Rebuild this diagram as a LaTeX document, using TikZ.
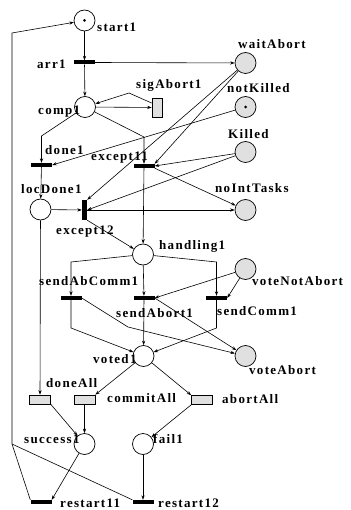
\documentclass[tikz,border=0pt]{standalone}
\usepackage{fontspec}
\setmainfont{Liberation Serif}
\usetikzlibrary{arrows.meta}
\begin{document}
\begin{tikzpicture}[x=1pt,y=-1pt,
  arc/.style={line width=0.6pt,-{Stealth[length=4.5pt,width=3.2pt]}},
  plain/.style={line width=0.6pt},
  place/.style={circle,draw,line width=0.7pt,minimum size=21pt,inner sep=0pt,fill=white},
  rplace/.style={place,fill=black!12},
  trans/.style={rectangle,fill=black,draw=none,minimum width=21pt,minimum height=4pt,inner sep=0pt},
  vtrans/.style={trans,minimum width=5pt,minimum height=20pt},
  act/.style={rectangle,draw,fill=black!12,line width=0.6pt,minimum width=21pt,minimum height=9pt,inner sep=0pt},
  lbl/.style={anchor=base west,inner sep=0pt,font=\fontsize{13}{15}\selectfont\bfseries\addfontfeature{LetterSpace=10}},
  tok/.style={circle,fill=black,inner sep=0pt,minimum size=3pt}
]
\useasboundingbox (0,0) rectangle (350,510);

% places
\node[place]  (start1)       at (84.5,20.5) {};
\node[place]  (comp1)        at (85,107) {};
\node[place]  (locDone1)     at (40.5,209.5) {};
\node[place]  (handling1)    at (143,254.5) {};
\node[place]  (voted1)       at (143.5,356) {};
\node[place]  (success1)     at (84.5,444) {};
\node[place]  (fail1)        at (143,444) {};
\node[rplace] (waitAbort)    at (245.5,63) {};
\node[rplace] (notKilled)    at (245.5,107) {};
\node[rplace] (Killed)       at (245.5,152) {};
\node[rplace] (noIntTasks)   at (245.5,210) {};
\node[rplace] (voteNotAbort) at (245.5,269) {};
\node[rplace] (voteAbort)    at (245.5,356) {};
\node[tok] (start1-tok) at (start1) {};
\node[tok] (notKilled-tok) at (notKilled) {};

% transitions
\node[trans]  (arr1)        at (84.5,62.5) {};
\node[trans]  (done1)       at (41.5,165) {};
\node[trans]  (except11)    at (144,166) {};
\node[vtrans] (except12)    at (84.5,210) {};
\node[trans]  (sendAbComm1) at (71,298) {};
\node[trans]  (sendAbort1)  at (144,298) {};
\node[trans]  (sendComm1)   at (216.5,298) {};
\node[trans]  (restart11)   at (41,502) {};
\node[trans]  (restart12)   at (143,502) {};
\node[act] (doneAll)   at (40,399.5) {};
\node[act] (commitAll) at (84.5,399.5) {};
\node[act] (abortAll)  at (202,400) {};
\node[act,minimum width=10pt,minimum height=19pt] (sigAbort1) at (157,107.5) {};

% labels
\node[lbl] (start1-l)       at (97,32)  {start1};
\node[lbl] (arr1-l)         at (37,69)  {arr1};
\node[lbl] (sigAbort1-l)    at (136,89) {sigAbort1};
\node[lbl] (comp1-l)        at (38,115) {comp1};
\node[lbl] (done1-l)        at (45,155) {done1};
\node[lbl] (except11-l)     at (91,161) {except11};
\node[lbl] (waitAbort-l)    at (238,49) {waitAbort};
\node[lbl] (notKilled-l)    at (227,93) {notKilled};
\node[lbl] (Killed-l)       at (228,139) {Killed};
\node[lbl] (noIntTasks-l)   at (215,193) {noIntTasks};
\node[lbl] (locDone1-l)     at (21,194) {locDone1};
\node[lbl] (except12-l)     at (56,234) {except12};
\node[lbl] (handling1-l)    at (159,249) {handling1};
\node[lbl] (sendAbComm1-l)  at (39,285) {sendAbComm1};
\node[lbl] (sendAbort1-l)   at (116,317) {sendAbort1};
\node[lbl] (sendComm1-l)    at (217,315) {sendComm1};
\node[lbl] (voteNotAbort-l) at (252,285) {voteNotAbort};
\node[lbl] (voteAbort-l)    at (249,374) {voteAbort};
\node[lbl] (voted1-l)       at (93,363) {voted1};
\node[lbl] (doneAll-l)      at (46,387) {doneAll};
\node[lbl] (commitAll-l)    at (107,402) {commitAll};
\node[lbl] (abortAll-l)     at (222,403) {abortAll};
\node[lbl] (success1-l)     at (24,443) {success1};
\node[lbl] (fail1-l)        at (153,443) {fail1};
\node[lbl] (restart11-l)    at (60,507) {restart11};
\node[lbl] (restart12-l)    at (158,507) {restart12};

% bend points
\coordinate (sa-bend) at (129,93);
\coordinate (c-d1)   at (41.5,136);
\coordinate (c-e11)  at (144,137);
\coordinate (h-sac)  at (71,262);
\coordinate (h-sc)   at (216.5,262);
\coordinate (sac-v)  at (71,328);
\coordinate (sac-va) at (128,327);
\coordinate (sc-v)   at (216.5,328);
\coordinate (r-join) at (12,444);
\coordinate (r-top)  at (12,33);

% arcs
\draw[arc] (start1) -- (arr1);
\draw[arc] (arr1) -- (comp1);
\draw[arc] (arr1.east) -- (waitAbort);
\draw[arc] (comp1) -- (sigAbort1);
\draw[arc] (sigAbort1.140) -- (sa-bend) -- (comp1);
\draw[arc] (comp1) -- (c-d1) -- (done1);
\draw[arc] (comp1) -- (c-e11) -- (except11);
\draw[arc] (notKilled) -- (done1.east);
\draw[arc] (waitAbort) -- (except11.north east);
\draw[arc] (waitAbort) -- (except12.north east);
\draw[arc] (Killed) -- (except11.east);
\draw[arc] (Killed) -- (except12.east);
\draw[arc] (except11.south east) -- (noIntTasks);
\draw[arc] (except11) -- (handling1);
\draw[arc] (done1) -- (locDone1);
\draw[arc] (locDone1) -- (except12);
\draw[arc] (except12) -- (noIntTasks);
\draw[arc] (except12.south east) -- (handling1);
\draw[arc] (locDone1) -- (doneAll);
\draw[arc] (handling1) -- (h-sac) -- (sendAbComm1);
\draw[arc] (handling1) -- (sendAbort1);
\draw[arc] (handling1) -- (h-sc) -- (sendComm1);
\draw[arc] (voteNotAbort) -- (sendAbort1.east);
\draw[arc] (voteNotAbort) -- (sendComm1.east);
\draw[arc] (sendAbComm1) -- (sac-v) -- (voted1);
\draw[arc] (sendAbComm1.east) -- (sac-va) -- (voteAbort);
\draw[arc] (sendAbort1) -- (voted1);
\draw[arc] (sendAbort1.east) -- (voteAbort);
\draw[arc] (sendComm1) -- (sc-v) -- (voted1);
\draw[arc] (voted1) -- (commitAll.north east);
\draw[arc] (voted1) -- (abortAll.north west);
\draw[arc] (doneAll.south east) -- (success1);
\draw[arc] (commitAll) -- (success1);
\draw[arc] (abortAll.south west) -- (fail1);
\draw[arc] (success1) -- (restart11.north east);
\draw[arc] (fail1) -- (restart12);
\draw[arc] (restart11.north west) -- (r-join) -- (r-top) -- (start1);
\draw[plain] (restart12.north west) -- (r-join);
\end{tikzpicture}
\end{document}
